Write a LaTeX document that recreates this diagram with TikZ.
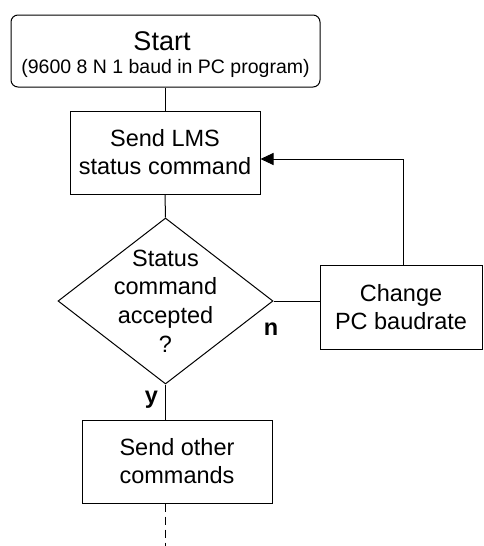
\documentclass[tikz,border=0pt]{standalone}
\usepackage{fontspec}
\setmainfont{Liberation Sans}
\usetikzlibrary{shapes.geometric,arrows.meta}
\tikzset{
  every picture/.style={line width=1pt},
  boxtxt/.style={font=\fontsize{23.5}{28}\selectfont, align=center},
  procbox/.style={draw, rectangle, inner sep=0pt, boxtxt},
  startbox/.style={draw, rectangle, rounded corners=7pt, inner sep=0pt, minimum width=309pt, minimum height=72pt},
  decision/.style={draw, diamond, inner sep=0pt, minimum width=215pt, minimum height=166pt},
  lbl/.style={font=\fontsize{23.5}{28}\selectfont\bfseries, anchor=base, inner sep=0pt},
  link/.style={draw},
  arrowlink/.style={draw, -{Triangle[length=13pt,width=12pt]}},
}
\begin{document}
\begin{tikzpicture}[x=1pt,y=-1pt]
\useasboundingbox (0,0) rectangle (483,546);
% start
\node[startbox] (start) at (165.5,51) {};
\node[font=\fontsize{27}{30}\selectfont, anchor=base, inner sep=0pt] (starttitle) at (162,50.7) {Start};
\node[font=\fontsize{19.5}{23}\selectfont, anchor=base, inner sep=0pt] (startsub) at (165.5,73.5) {(9600 8 N 1 baud in PC program)};
% boxes
\node[procbox, minimum width=190pt, minimum height=83pt] (lms) at (165,152.5) {Send LMS\\status command};
\node[decision] (dia) at (165.5,301) {};
\node[boxtxt, inner sep=0pt, font=\fontsize{23.5}{28.7}\selectfont] (diatext) at (165.5,301) {Status\\command\\accepted\\?};
\node[procbox, minimum width=162pt, minimum height=84pt] (chg) at (401,307) {Change\\PC baudrate};
\node[procbox, minimum width=190pt, minimum height=83pt] (other) at (177,461.5) {Send other\\commands};
\coordinate (end) at (165,546);
% connectors
\draw[link] (start.south -| lms.north) -- (lms.north);
\draw[link] (lms.south) -- (dia.north);
\draw[link] (dia.east) -- (dia.east -| chg.west);
\draw[arrowlink] ([xshift=2pt]chg.north) |- ([yshift=-6.5pt]lms.east);
\draw[link] (dia.south) -- (dia.south |- other.north);
\draw[link, dash pattern=on 8pt off 5pt] (other.south -| end) -- (end);
% labels
\node[lbl] (nlabel) at (271,335) {n};
\node[lbl] (ylabel) at (151.5,403) {y};
\end{tikzpicture}
\end{document}
